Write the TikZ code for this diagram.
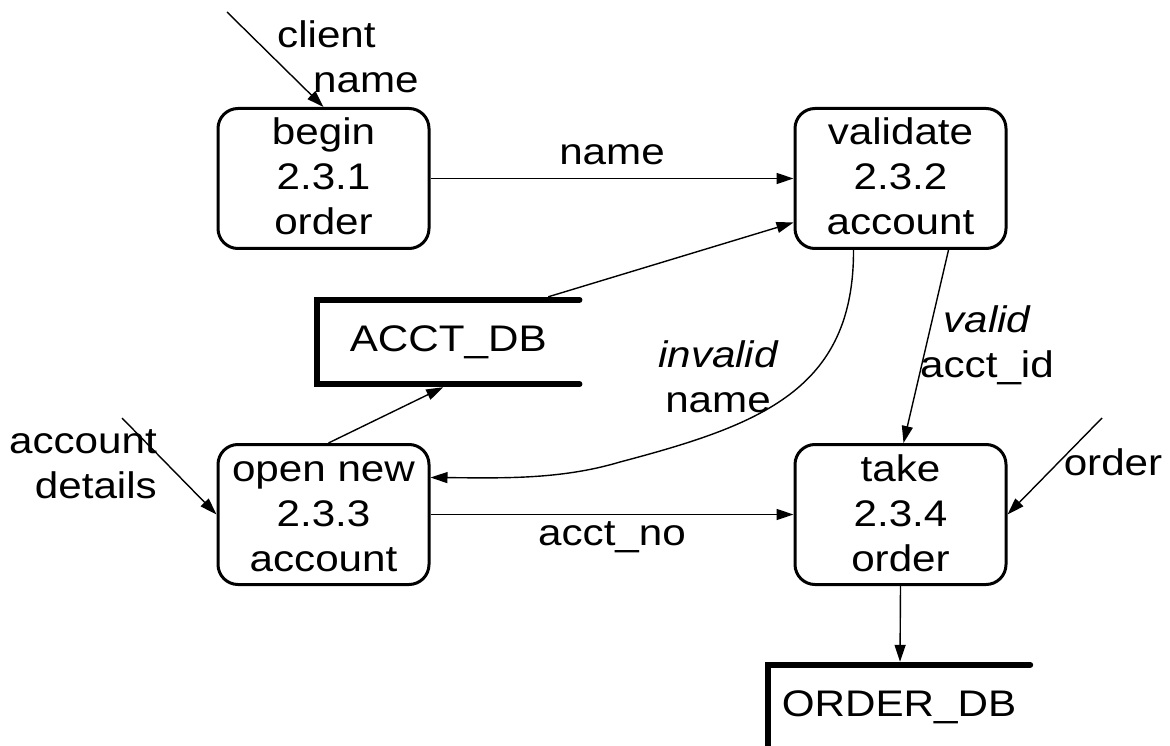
\documentclass[tikz,border=0pt]{standalone}
\usepackage{fontspec}
\setmainfont{Liberation Sans}[FakeStretch=1.14]
\usetikzlibrary{arrows.meta,calc}
\newcommand{\zs}{\rule[-11pt]{0pt}{45pt}}
\begin{document}
\begin{tikzpicture}[x=1pt,y=-1pt,
  txt/.style={font=\fontsize{37}{45}\selectfont, inner sep=0pt},
  proc/.style={txt, draw, line width=3pt, rounded corners=20pt, minimum width=211pt, minimum height=140pt, align=center},
  store/.style={txt, minimum width=262pt, minimum height=84pt, text height=26pt, text depth=8pt},
  storeline/.style={line width=6pt, line cap=round, line join=miter},
  lab/.style={txt},
  flow/.style={line width=1.4pt, -{Triangle[length=17pt,width=11pt]}},
]
\clip (0,0) rectangle (1170,746);
% processes
\node[proc] (p1) at (323.5,178.5) {\zs begin\\\zs 2.3.1\\\zs order};
\node[proc] (p2) at (900.5,178.5) {\zs validate\\\zs 2.3.2\\\zs account};
\node[proc] (p3) at (323.5,514.5) {\zs open new\\\zs 2.3.3\\\zs account};
\node[proc] (p4) at (900.5,514.5) {\zs take\\\zs 2.3.4\\\zs order};
% stores
\node[store] (acctdb) at (448.25,342) {ACCT\_DB};
\node[store] (orderdb) at (899,707) {ORDER\_DB};
\draw[storeline] (acctdb.north east) -- (acctdb.north west) -- (acctdb.south west) -- (acctdb.south east);
\draw[storeline] (orderdb.north east) -- (orderdb.north west) -- (orderdb.south west);
% external sources
\coordinate (srcclient) at (227,12);
\coordinate (srcacct) at (122,418);
\coordinate (srcorder) at (1102,418);
% labels
\node[lab, anchor=west, align=left] (lclient) at (277,59) {\zs client\\\hspace*{36pt}\zs name};
\node[lab, anchor=east, align=right] (lacct) at (157,464) {\zs account\\\zs details};
\node[lab] (lname) at (612,153.5) {\zs name};
\node[lab] (lacctno) at (612,533.5) {\zs acct\_no};
\node[lab, align=center] (linv) at (718,378) {\zs{\itshape invalid}\\\zs name};
\node[lab, align=center] (lvalid) at (987,343) {\zs{\itshape valid}\\\zs acct\_id};
\node[lab] (lorder) at (1113,463.5) {\zs order};
% flows
\draw[flow] (srcclient) -- (p1.north);
\draw[flow] (p1.east) -- (p2.west);
\draw[flow] ($(acctdb.north)+(100,-3)$) -- ($(p2.west)+(0,44)$);
\draw[flow] ($(p3.north)+(5,0)$) -- ($(acctdb.south)+(-5,3)$);
\draw[flow] ($(p2.south)+(-47,0)$) .. controls (854,390) and (760,425) .. (620,462) .. controls (560,480) and (500,478) .. ($(p3.east)+(0,-37)$);
\draw[flow] ($(p2.south)+(48,0)$) -- ($(p4.north)+(3,0)$);
\draw[flow] (srcacct) -- (p3.west);
\draw[flow] (p3.east) -- (p4.west);
\draw[flow] (srcorder) -- (p4.east);
\draw[flow] (p4.south) -- ($(orderdb.north)+(1,-3)$);
\end{tikzpicture}
\end{document}
